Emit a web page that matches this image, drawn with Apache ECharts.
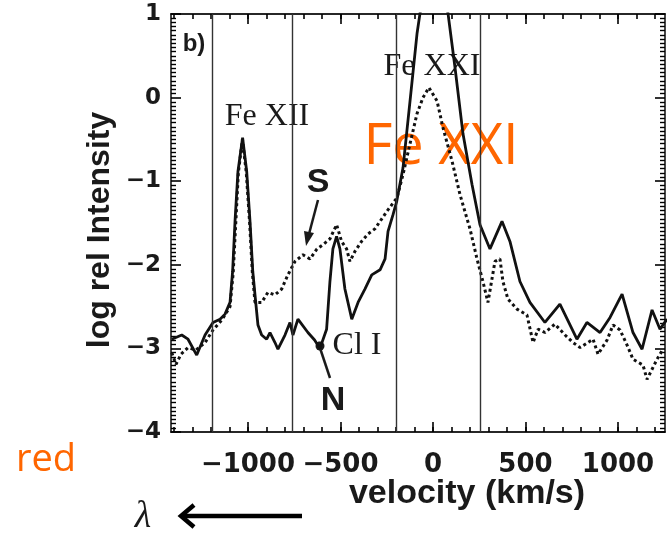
<!DOCTYPE html>
<html>
<head>
<meta charset="utf-8">
<script src="https://cdn.jsdelivr.net/npm/echarts@6/dist/echarts.min.js"></script>
<style>
html,body{margin:0;padding:0;background:#fff;}
#chart{width:668px;height:536px;}
</style>
</head>
<body>
<div id="chart"></div>
<script>
// ---- data ----
const solidV = [-1412,-1358,-1324,-1277,-1232,-1189,-1151,-1124,-1097,-1083,-1070,-1054,-1029,-1007,-989,-974,-962,-946,-926,-899,-881,-854,-838,-800,-773,-757,-730,-676,-640,-611,-575,-557,-541,-521,-503,-476,-439,-405,-368,-331,-286,-259,-243,-216,-196,-162,-124,-86,-70,-43,5,54,81,119,162,211,254,308,373,416,470,524,605,686,778,832,903,957,1022,1081,1130,1184,1227,1265];
const solidY = [-2.89,-2.84,-2.89,-3.08,-2.84,-2.69,-2.65,-2.59,-2.45,-2.08,-1.48,-0.88,-0.48,-0.88,-1.48,-2.08,-2.36,-2.72,-2.84,-2.89,-2.81,-2.93,-3.01,-2.84,-2.69,-2.84,-2.65,-2.81,-2.90,-3.00,-2.77,-2.20,-1.81,-1.66,-1.81,-2.29,-2.65,-2.45,-2.29,-2.12,-2.06,-1.93,-1.60,-1.40,-1.24,-0.84,-0.04,0.77,1.01,1.29,1.47,1.29,1.01,0.36,-0.43,-1.04,-1.52,-1.81,-1.48,-1.72,-2.20,-2.45,-2.69,-2.47,-2.89,-2.69,-2.81,-2.63,-2.35,-2.81,-3.01,-2.54,-2.77,-2.65];
const dashV = [-1412,-1389,-1362,-1324,-1281,-1232,-1189,-1141,-1097,-1080,-1066,-1052,-1030,-1009,-991,-976,-962,-926,-892,-854,-818,-784,-746,-703,-665,-627,-595,-557,-521,-494,-467,-449,-422,-386,-351,-314,-286,-249,-195,-162,-124,-86,-54,-22,22,54,103,146,200,238,270,297,335,362,378,405,454,508,541,568,605,659,714,757,795,865,892,941,973,1011,1049,1081,1135,1157,1211,1243];
const dashY = [-3.05,-3.19,-3.07,-2.99,-3.02,-2.93,-2.78,-2.66,-2.50,-2.10,-1.50,-0.90,-0.50,-0.90,-1.50,-2.10,-2.45,-2.45,-2.33,-2.36,-2.29,-2.12,-1.96,-1.88,-1.93,-1.81,-1.76,-1.69,-1.52,-1.72,-1.81,-1.96,-1.84,-1.72,-1.63,-1.57,-1.48,-1.36,-1.20,-0.92,-0.55,-0.19,0.00,0.12,-0.04,-0.36,-0.76,-1.16,-1.57,-1.93,-2.20,-2.45,-1.96,-1.93,-2.20,-2.41,-2.53,-2.60,-2.93,-2.77,-2.81,-2.71,-2.84,-2.93,-2.99,-2.89,-3.07,-2.90,-2.72,-2.78,-2.96,-3.13,-3.20,-3.37,-3.13,-3.01];
const markerLines = [-1195,-762,-200,254];
const xTicks = [-1000,-500,0,500,1000];
const xMinorTicks = [-1400,-1300,-1200,-1100,-1000,-900,-800,-700,-600,-500,-400,-300,-200,-100,0,100,200,300,400,500,600,700,800,900,1000,1100,1200];
const yTicks = [-4,-3,-2,-1,0,1];

const X_MIN = -1416, X_MAX = 1254, Y_MIN = yTicks[0], Y_MAX = yTicks[yTicks.length-1];

const solidData = solidV.map((v,i)=>[v, solidY[i]]);
const dashData = dashV.map((v,i)=>[v, dashY[i]]);

const fmt = v => String(v).replace('-', '\u2212');
const ink = '#1a1a1a';
const labelFont = {fontFamily:'DejaVu Sans', fontWeight:'bold', color:ink};

function xAx(pos, major, withLabel){
  return {
    type:'value', min:X_MIN, max:X_MAX, position:pos,
    axisLine:{show:true, onZero:false, lineStyle:{color:ink, width:1.6}},
    axisTick:{show:true, inside:true, length: major?10:5, customValues: major? xTicks : xMinorTicks, lineStyle:{color:'#000',width:1.6}},
    axisLabel:{show:withLabel, customValues:xTicks, formatter:fmt, margin:20, fontSize:26, ...labelFont},
    splitLine:{show:false}
  };
}
function yAx(pos, withLabel){
  return {
    type:'value', min:Y_MIN, max:Y_MAX, interval:1, position:pos,
    axisLine:{show:true, onZero:false, lineStyle:{color:ink,width:1.6}},
    axisTick:{show:true, inside:true, length:10, lineStyle:{color:'#000',width:1.6}},
    minorTick:{show:true, splitNumber:20, length:5, lineStyle:{color:'#000',width:1.4}},
    axisLabel:{show:withLabel, formatter:fmt, margin:10, fontSize:23, ...labelFont},
    splitLine:{show:false}, minorSplitLine:{show:false}
  };
}

const chart = echarts.init(document.getElementById('chart'), null, {renderer:'canvas'});
chart.setOption({
  animation:false,
  backgroundColor:'#fff',
  grid:{left:171, right:3, top:14, bottom:104, containLabel:false},
  xAxis:[ xAx('bottom',true,true), xAx('bottom',false,false), xAx('top',true,false), xAx('top',false,false) ],
  yAxis:[ yAx('left',true), yAx('right',false) ],
  series:[
    {type:'line', name:'solid', data:solidData, xAxisIndex:0, yAxisIndex:0, symbol:'none', clip:true,
     lineStyle:{color:'#111', width:2.8},
     markLine:{silent:true, symbol:['none','none'], label:{show:false},
       lineStyle:{color:'#333', width:1.4, type:'solid'},
       data: markerLines.map(v=>({xAxis:v}))}},
    {type:'line', name:'dashed', data:dashData, xAxisIndex:0, yAxisIndex:0, symbol:'none', clip:true,
     lineStyle:{color:'#111', width:3, type:[3,3]}}
  ],
  graphic:[
    {type:'text', x:194, y:44, style:{text:'b)', font:'bold 24px "Liberation Sans"', fill:ink, align:'center', verticalAlign:'middle'}},
    {type:'text', x:267, y:117, style:{text:'Fe XII', font:'32px "Liberation Serif"', fill:ink, align:'center', verticalAlign:'middle'}},
    {type:'text', x:432, y:67, style:{text:'Fe XXI', font:'32px "Liberation Serif"', fill:ink, align:'center', verticalAlign:'middle'}},
    {type:'text', x:357, y:346, style:{text:'Cl I', font:'32px "Liberation Serif"', fill:ink, align:'center', verticalAlign:'middle'}},
    {type:'text', x:318, y:183, style:{text:'S', font:'bold 34px "Liberation Sans"', fill:ink, align:'center', verticalAlign:'middle'}},
    {type:'text', x:333, y:401, style:{text:'N', font:'bold 34px "Liberation Sans"', fill:ink, align:'center', verticalAlign:'middle'}},
    {type:'line', shape:{x1:318,y1:200,x2:309,y2:234}, style:{stroke:ink, lineWidth:2.5}},
    {type:'polygon', shape:{points:[[306,246],[314,233],[304,231]]}, style:{fill:ink}},
    {type:'line', shape:{x1:318,y1:342,x2:330,y2:378}, style:{stroke:ink, lineWidth:2.5}},
    {type:'circle', shape:{cx:320,cy:346,r:4.5}, style:{fill:ink}},
    {type:'text', x:441, y:148, style:{text:'Fe XXI', font:'56px "Open Sans"', fill:'#ff6600', align:'center', verticalAlign:'middle'}},
    {type:'text', x:46, y:460, style:{text:'red', font:'38px "Open Sans"', fill:'#ff6600', align:'center', verticalAlign:'middle'}},
    {type:'text', x:467, y:494, style:{text:'velocity (km/s)', font:'bold 34px "Liberation Sans"', fill:ink, align:'center', verticalAlign:'middle'}},
    {type:'text', x:100, y:230, rotation:Math.PI/2, style:{text:'log rel Intensity', font:'bold 32px "Liberation Sans"', fill:ink, align:'center', verticalAlign:'middle'}},
    {type:'text', x:143, y:517, style:{text:'\u03bb', font:'italic 38px "Liberation Serif"', fill:ink, align:'center', verticalAlign:'middle'}},
    {type:'line', shape:{x1:302,y1:516,x2:181,y2:516}, style:{stroke:'#000', lineWidth:4.5}},
    {type:'polyline', shape:{points:[[194,505],[181,516],[194,527]]}, style:{stroke:'#000', lineWidth:4.5, fill:null}}
  ]
});
</script>
</body>
</html>
